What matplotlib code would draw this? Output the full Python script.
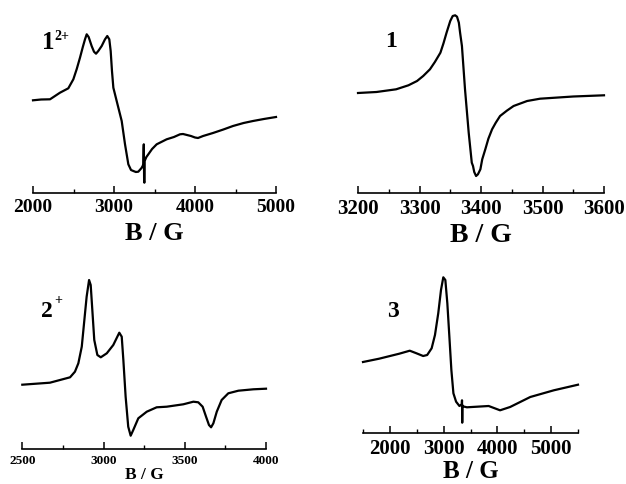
import matplotlib
matplotlib.use("Agg")
import matplotlib.pyplot as plt
from matplotlib.ticker import MultipleLocator

# ---------------- data ----------------
# Panel 1^{2+}
b1 = [2000, 2100, 2210, 2333, 2436, 2498, 2540, 2580, 2615, 2642, 2663, 2687, 2724, 2753,
      2778, 2806, 2848, 2889, 2917, 2942, 2959, 2975, 2992, 3033, 3095, 3136, 3177, 3210,
      3239, 3270, 3300, 3340, 3354, 3362, 3366, 3368, 3372, 3375, 3378, 3400, 3424, 3470,
      3527, 3650, 3740, 3815, 3852, 3950, 4000, 4037, 4100, 4222, 4350, 4469, 4600, 4716,
      4850, 5000]
i1 = [92.7, 93.5, 93.7, 100.3, 104.7, 113.7, 124, 135.3, 146, 153.7, 158.7, 156, 147, 141.3,
      139.3, 142, 147, 153.7, 157, 153.7, 142, 122, 105.3, 92, 72, 48.7, 28.7, 23,
      22, 21, 21.3, 25, 27, 29, 45, 48.7, 12, 10.3, 32, 36, 38.7, 44,
      48.7, 53.7, 56, 58.7, 59, 57, 55.5, 55, 57, 60, 63.5, 67, 70, 72,
      74, 76]

# Panel 1
b2 = [3200, 3230, 3262, 3282, 3296, 3306, 3317, 3325, 3334, 3339, 3344, 3350, 3354, 3358,
      3361, 3364, 3366, 3369, 3374, 3380, 3385, 3387, 3389, 3392, 3395, 3399, 3402, 3407,
      3412, 3418, 3424, 3431, 3442, 3453, 3475, 3496, 3550, 3600]
i2 = [100, 101, 103.7, 107.7, 112, 117, 123.7, 131, 140.3, 149.7, 160.3, 172, 177, 177.7,
      176.3, 170.3, 160.3, 147, 103.7, 60.3, 30.3, 27, 21, 17, 18.7, 23.7, 33.7, 43.7,
      54.3, 63.7, 70.3, 77, 82.3, 87, 92, 94.3, 96.5, 97.7]

# Panel 2^{+}
b3 = [2500, 2670, 2732, 2794, 2824, 2845, 2866, 2882, 2896, 2911, 2921, 2931, 2943, 2962,
      2983, 3020, 3060, 3097, 3112, 3122, 3136, 3152, 3167, 3183, 3214, 3266, 3327, 3389,
      3491, 3553, 3583, 3610, 3631, 3649, 3662, 3676, 3697, 3727, 3768, 3830, 3922, 4000]
i3 = [64.6, 66.6, 69.3, 72, 77.6, 86, 102.6, 129.3, 152.6, 169.3, 164.3, 139.3, 109.3, 94.3,
      92, 96, 104.3, 116.6, 112.6, 89.3, 52.6, 22.6, 13.6, 19.3, 31, 37.6, 42, 42.6,
      45, 47.6, 47, 42.6, 32.6, 24.3, 22, 26, 37.6, 49.3, 56, 58.6, 60, 60.6]

# Panel 3
b4 = [1500, 1800, 2175, 2370, 2495, 2619, 2694, 2777, 2839, 2900, 2951, 2994, 3032, 3069,
      3107, 3144, 3182, 3232, 3294, 3338, 3342, 3346, 3350, 3356, 3433, 3621, 3838, 4050,
      4237, 4612, 5050, 5500]
i4 = [71.3, 74.6, 79.6, 82.6, 80, 77.3, 78.3, 85, 98.3, 120, 143.3, 156, 153.3, 130,
      96.6, 63.3, 40, 31.6, 27.3, 29, 33, 10.6, 28, 27, 26, 26.6, 27.3, 23,
      26.3, 36.3, 43, 48.6]

# ---------------- figure ----------------
W, H = 626, 484
fig = plt.figure(figsize=(W / 100, H / 100), dpi=100)
SERIF = ["Liberation Serif", "DejaVu Serif"]


def px_axes(x0, x1, ybot, ytop):
    return fig.add_axes([x0 / W, 1 - ybot / H, (x1 - x0) / W, (ybot - ytop) / H])


def style(ax, xlim, ylim, major, minor, tfs, lfs, labelpad):
    ax.set_xlim(*xlim)
    ax.set_ylim(*ylim)
    for s in ("top", "right", "left"):
        ax.spines[s].set_visible(False)
    ax.spines["bottom"].set_linewidth(1.2)
    ax.set_yticks([])
    ax.xaxis.set_major_locator(MultipleLocator(major))
    ax.xaxis.set_minor_locator(MultipleLocator(minor))
    ax.tick_params(axis="x", which="major", direction="in", length=5, width=1.1, pad=4)
    ax.tick_params(axis="x", which="minor", direction="in", length=3, width=1.0)
    for lab in ax.get_xticklabels():
        lab.set_fontfamily(SERIF)
        lab.set_fontweight("bold")
        lab.set_fontsize(tfs)
    ax.set_xlabel("B / G", fontfamily=SERIF, fontweight="bold", fontsize=lfs,
                  labelpad=labelpad)


def ftext(x, y, s, fs):
    fig.text(x / W, 1 - y / H, s, fontfamily=SERIF, fontweight="bold", fontsize=fs,
             va="baseline", ha="left")


ax1 = px_axes(33, 276, 193, 20)
ax1.plot(b1, i1, color="black", lw=1.6, clip_on=False)
style(ax1, (2000, 5000), (0, 173), 1000, 500, 14, 19, 5)

ax2 = px_axes(358, 604, 193, 12)
ax2.plot(b2, i2, color="black", lw=1.6, clip_on=False)
style(ax2, (3200, 3600), (0, 181), 100, 50, 15, 20, 3)

ax3 = px_axes(22.3, 266, 449.3, 270)
ax3.plot(b3, i3, color="black", lw=1.6, clip_on=False)
style(ax3, (2500, 4000), (0, 179.3), 500, 250, 9.5, 12.5, 0)

ax4 = px_axes(363, 578, 433.3, 270)
ax4.plot(b4, i4, color="black", lw=1.6, clip_on=False)
style(ax4, (1500, 5500), (0, 163.3), 1000, 500, 15, 18, 1)

ftext(42, 49, "1", 18)
ftext(54, 40, "2+", 10)
ftext(385, 47, "1", 17)
ftext(41, 317, "2", 17)
ftext(54, 304, "+", 10)
ftext(387, 317, "3", 17)

fig.savefig("out.png", dpi=100)
